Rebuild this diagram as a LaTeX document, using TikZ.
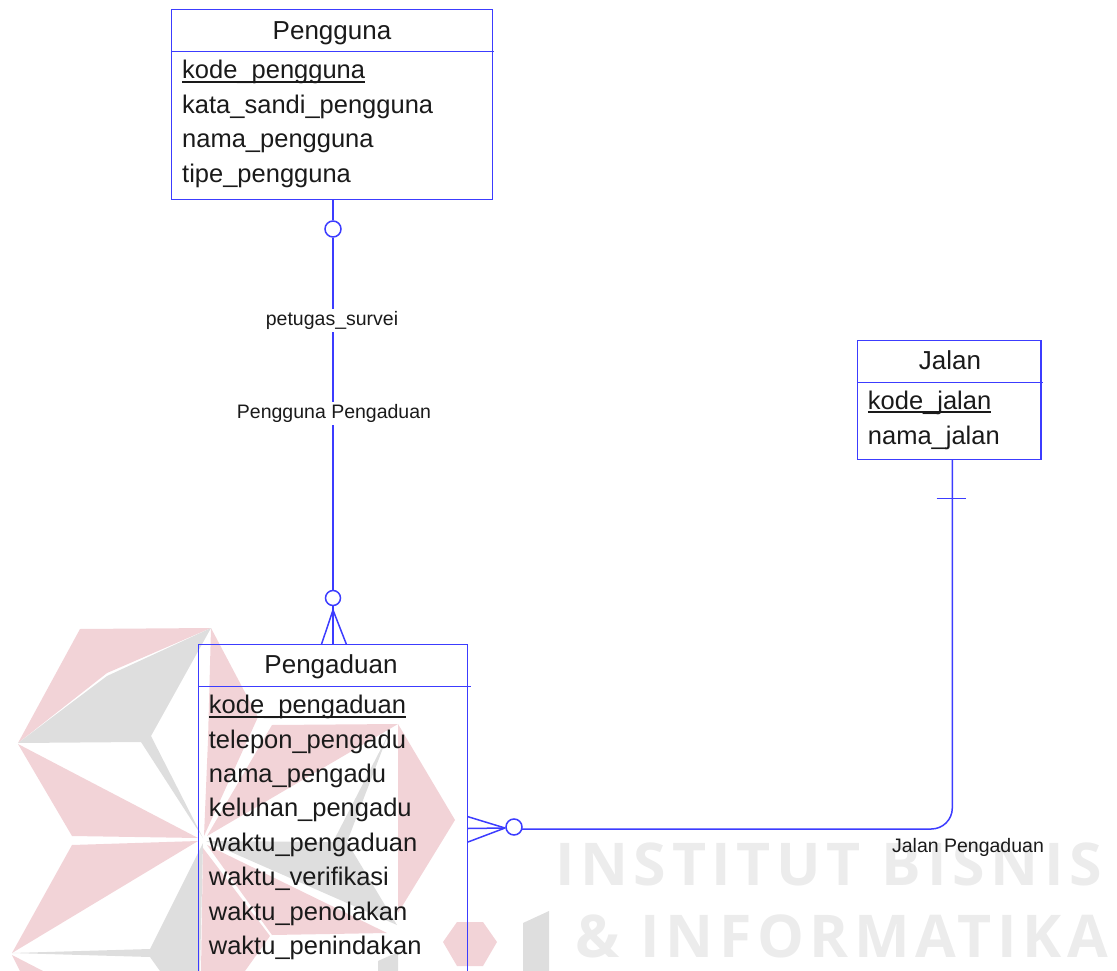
\documentclass[tikz,border=0pt]{standalone}
\usepackage{fontspec}
\setmainfont{Liberation Sans}
\newfontfamily\markfont[LetterSpace=9.5]{Open Sans}
\newfontfamily\marktwofont[LetterSpace=9.5]{Open Sans}
\definecolor{erblue}{RGB}{60,60,255}
\definecolor{markpink}{RGB}{242,211,215}
\definecolor{markgray}{RGB}{222,222,222}
\definecolor{marktext}{RGB}{236,236,236}
\definecolor{ertext}{RGB}{26,26,26}
\newcommand{\keyattr}[1]{\setbox0\hbox{#1}\rlap{\rule[-4pt]{\wd0}{2pt}}\box0}
\tikzset{
    erline/.style={draw=erblue,line width=1.5pt},
    entity/.style={draw=erblue,line width=1.5pt,inner sep=0pt},
    optional/.style={draw=erblue,line width=1.5pt,fill=white,circle,inner sep=0pt,minimum size=16pt},
    attr/.style={anchor=base west,inner sep=0pt,text=ertext,font=\fontsize{25.5}{30}\selectfont},
    title/.style={anchor=base,inner sep=0pt,text=ertext,font=\fontsize{26}{30}\selectfont},
    rolelabel/.style={fill=white,inner sep=2pt,text=ertext,font=\fontsize{19.5}{23}\selectfont},
    markline/.style={anchor=base west,inner sep=0pt,text=marktext,font=\bfseries\fontsize{59}{70}\selectfont}
}
\begin{document}
\begin{tikzpicture}[x=1pt,y=-1pt]
    \path[use as bounding box,clip] (0,0) rectangle (1117,971);

    % watermark
    \fill[markpink] (80,629) -- (211,628) -- (107,673) -- (18,743) -- cycle;
    \fill[markgray] (211,628) -- (151,736) -- (203,838) -- (141,742) -- (18,743) -- (107,676) -- cycle;
    \fill[markpink] (18,744) -- (198,838) -- (72,836) -- cycle;
    \fill[markpink] (198,841) -- (72,845) -- (12,953) -- cycle;
    \fill[markgray] (203,843) -- (150,949) -- (12,953) -- (150,957) -- (160,971) -- (200,971) -- cycle;
    \fill[markpink] (12,955) -- (43,971) -- (20,971) -- cycle;
    \fill[markpink] (211,628) -- (258,717) -- (204,836) -- (208,740) -- cycle;
    \fill[markpink] (272,725) -- (398,724) -- (207,836) -- cycle;
    \fill[markpink] (398,724) -- (455,820) -- (398,913) -- cycle;
    \fill[markgray] (206,841) -- (333,842) -- (388,735) -- (347,842) -- (397,925) -- cycle;
    \fill[markpink] (207,845) -- (387,933) -- (272,935) -- cycle;
    \fill[markpink] (203,848) -- (270,936) -- (245,971) -- (201,971) -- cycle;
    \fill[markpink] (457,922) -- (483,922) -- (497,942) -- (483,966) -- (457,966) -- (443,942) -- cycle;
    \fill[markgray] (378,961) -- (398,952) -- (398,971) -- (378,971) -- cycle;
    \fill[markgray] (523,923) -- (549,911) -- (549,971) -- (523,971) -- cycle;
    \node[markline] (markone) at (555,885) {\markfont INSTITUT BISNIS};
    \node[markline] (marktwo) at (575,957) {\marktwofont \& INFORMATIKA};

    \node[entity,minimum width=320.6pt,minimum height=190pt] (pengguna) at (332,104.5) {};
    \node[entity,minimum width=183.7pt,minimum height=118.6pt] (jalan) at (949.2,400) {};
    \node[entity,minimum width=269.4pt,minimum height=500pt] (pengaduan) at (333,894.3) {};
    \draw[erline] (171.7,51.7) -- (493.5,51.7);
    \draw[erline] (857.3,382.7) -- (1042.7,382.7);
    \draw[erline] (198.3,686.7) -- (471,686.7);

    \node[title] (penggunatitle) at (332,39.3) {Pengguna};
    \node[attr] (penggunakode) at (182,79) {\keyattr{kode\_pengguna}};
    \node[attr] (penggunasandi) at (182,113.5) {kata\_sandi\_pengguna};
    \node[attr] (penggunanama) at (182,148) {nama\_pengguna};
    \node[attr] (penggunatipe) at (182,182.5) {tipe\_pengguna};

    \node[title] (jalantitle) at (950,369.3) {Jalan};
    \node[attr] (jalankode) at (867.7,409) {\keyattr{kode\_jalan}};
    \node[attr] (jalannama) at (867.7,444) {nama\_jalan};

    \node[title] (pengaduantitle) at (331,673) {Pengaduan};
    \node[attr] (pengaduankode) at (208.7,713.5) {\keyattr{kode\_pengaduan}};
    \node[attr] (pengaduantelepon) at (208.7,748) {telepon\_pengadu};
    \node[attr] (pengaduannama) at (208.7,782.5) {nama\_pengadu};
    \node[attr] (pengaduankeluhan) at (208.7,816.5) {keluhan\_pengadu};
    \node[attr] (pengaduanwaktu) at (208.7,851) {waktu\_pengaduan};
    \node[attr] (pengaduanverif) at (208.7,885.5) {waktu\_verifikasi};
    \node[attr] (pengaduantolak) at (208.7,920) {waktu\_penolakan};
    \node[attr] (pengaduantindak) at (208.7,954) {waktu\_penindakan};

    % pengguna to pengaduan
    \node[optional] (penggunaopt) at (333,229) {};
    \node[optional,minimum size=15pt] (pengaduanopt) at (333,598) {};
    \coordinate (topstart) at (333,199.5);
    \coordinate (toptip) at (333,610);
    \coordinate (topleft) at (321.5,644.3);
    \coordinate (topmid) at (333,644.3);
    \coordinate (topright) at (346.4,644.3);
    \draw[erline] (topstart) to (penggunaopt);
    \draw[erline] (penggunaopt) to (pengaduanopt);
    \draw[erline] (pengaduanopt) to (toptip);
    \draw[erline] (toptip) to (topleft);
    \draw[erline] (toptip) to (topmid);
    \draw[erline] (toptip) to (topright);
    \node[rolelabel] (rolesurvei) at (332,320.5) {petugas\_survei};
    \node[rolelabel] (rolepengguna) at (334,413.5) {Pengguna Pengaduan};

    % jalan to pengaduan
    \node[optional] (jalanopt) at (514,827) {};
    \coordinate (jalanstart) at (952.3,459.3);
    \coordinate (jalanbar) at (952.3,498.3);
    \coordinate (barleft) at (936.7,498.3);
    \coordinate (barright) at (966,498.3);
    \coordinate (rightrun) at (522,829);
    \coordinate (righttip) at (505,828);
    \coordinate (sidetop) at (468,816.7);
    \coordinate (sidemid) at (468,828.5);
    \coordinate (sidebottom) at (468,842);
    \draw[erline,rounded corners=21pt] (jalanstart) |- (rightrun);
    \draw[erline] (barleft) to (barright);
    \draw[erline] (righttip) to (jalanopt);
    \draw[erline] (righttip) to (sidetop);
    \draw[erline] (righttip) to (sidemid);
    \draw[erline] (righttip) to (sidebottom);
    \node[rolelabel,fill=none] (rolejalan) at (968,847) {Jalan Pengaduan};
\end{tikzpicture}
\end{document}
